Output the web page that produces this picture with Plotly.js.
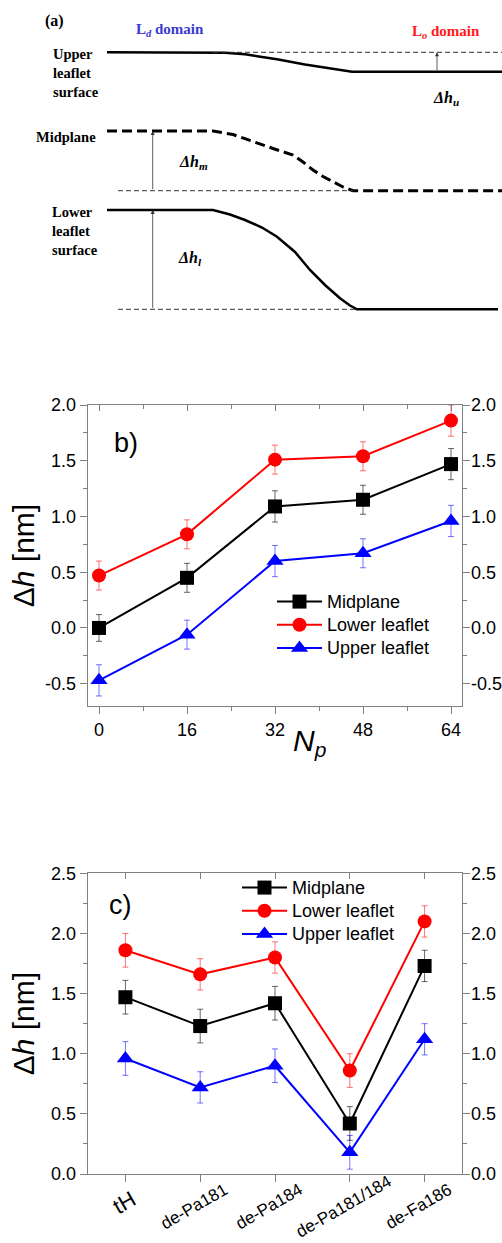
<!DOCTYPE html>
<html><head><meta charset="utf-8">
<script src="https://cdn.plot.ly/plotly-3.0.1.min.js"></script>
<style>html,body{margin:0;padding:0;background:#fff}</style>
</head><body><div id="chart" style="width:502px;height:1243px"></div>
<script>
// ---------- panel (a) schematic profiles (schematic units) ----------
const upperX = [107, 213, 225, 245, 277, 305, 333, 345, 352, 502];
const upperY = [52.3, 52.3, 52.8, 54.3, 59.3, 64.5, 69.0, 70.9, 71.7, 71.7];
const midX = [107, 213, 233, 253, 273, 293, 303, 313, 323, 333, 343, 353, 502];
const midY = [131, 131, 134.5, 141.7, 148.5, 155, 162, 170, 176.5, 181.7, 187, 190.7, 190.7];
const lowX = [107, 213, 230, 245, 262, 277, 295, 310, 325, 340, 350, 357, 498];
const lowY = [210, 210, 214.5, 220, 227.5, 236.7, 252, 270, 285, 298.3, 305.5, 309.3, 309.3];
const refUpX = [213, 502], refUpY = [52.3, 52.3];
const refMidX = [118, 353], refMidY = [190.7, 190.7];
const refLowX = [118, 357], refLowY = [309.3, 309.3];

// ---------- panel (b) ----------
const np = [0, 16, 32, 48, 64];
const bMid = [0.00, 0.45, 1.09, 1.15, 1.47];
const bMidErr = [0.12, 0.13, 0.14, 0.13, 0.14];
const bLow = [0.47, 0.84, 1.51, 1.54, 1.86];
const bLowErr = [0.13, 0.13, 0.13, 0.13, 0.14];
const bUp = [-0.47, -0.06, 0.60, 0.67, 0.96];
const bUpErr = [0.14, 0.13, 0.14, 0.13, 0.14];
const bYTicks = [-0.5, 0, 0.5, 1, 1.5, 2];
const bYLabels = ['-0.5', '0.0', '0.5', '1.0', '1.5', '2.0'];

// ---------- panel (c) ----------
const variants = ['tH', 'de-Pa181', 'de-Pa184', 'de-Pa181/184', 'de-Fa186'];
const cMid = [1.47, 1.23, 1.42, 0.42, 1.73];
const cMidErr = [0.14, 0.14, 0.14, 0.14, 0.13];
const cLow = [1.86, 1.66, 1.80, 0.86, 2.10];
const cLowErr = [0.14, 0.13, 0.13, 0.14, 0.13];
const cUp = [0.96, 0.72, 0.90, 0.18, 1.12];
const cUpErr = [0.14, 0.13, 0.14, 0.14, 0.13];
const cYTicks = [0, 0.5, 1, 1.5, 2, 2.5];
const cYLabels = ['0.0', '0.5', '1.0', '1.5', '2.0', '2.5'];

const seriesNames = ['Midplane', 'Lower leaflet', 'Upper leaflet'];

const SANS = 'Arial, "Liberation Sans", sans-serif';
const SERIF = '"Times New Roman", "Liberation Serif", serif';
const W = 502, H = 1243;
const py = p => 1 - p / H;
const px = p => p / W;

function series(x, y, err, color, errColor, symbol, size, name, xa, ya, legend) {
  return {
    type: 'scatter', mode: 'lines+markers', x: x, y: y,
    name: '<span style="font-size:18px">' + name + '</span>',
    xaxis: xa, yaxis: ya, legend: legend,
    line: {color: color, width: 2},
    marker: {symbol: symbol, size: size, color: color},
    error_y: {type: 'data', array: err, visible: true, color: errColor, thickness: 1, width: 3}
  };
}
function schem(x, y, width, dash, color) {
  return {type: 'scatter', mode: 'lines', x: x, y: y, xaxis: 'x5', yaxis: 'y5',
    showlegend: false, hoverinfo: 'skip',
    line: {color: color, width: width, dash: dash}};
}
function holder(xa, ya) {   // empty trace that makes the mirrored axes appear
  return {type: 'scatter', mode: 'markers', x: [null], y: [null], xaxis: xa, yaxis: ya,
    showlegend: false, hoverinfo: 'skip'};
}

const traces = [
  schem(upperX, upperY, 2.5, 'solid', '#000'),
  schem(midX, midY, 3, '10px,5px', '#000'),
  schem(lowX, lowY, 2.5, 'solid', '#000'),
  schem(refUpX, refUpY, 1, '5px,3px', '#333'),
  schem(refMidX, refMidY, 1, '5px,3px', '#333'),
  schem(refLowX, refLowY, 1, '5px,3px', '#333'),

  holder('x2', 'y2'),
  holder('x4', 'y4'),

  series(np, bMid, bMidErr, '#000000', 'rgba(0,0,0,0.6)', 'square', 14, seriesNames[0], 'x', 'y', 'legend'),
  series(np, bLow, bLowErr, '#ff0000', 'rgba(255,0,0,0.55)', 'circle', 14, seriesNames[1], 'x', 'y', 'legend'),
  series(np, bUp, bUpErr, '#0000ff', 'rgba(0,0,255,0.55)', 'triangle-up', 15, seriesNames[2], 'x', 'y', 'legend'),

  series(variants, cMid, cMidErr, '#000000', 'rgba(0,0,0,0.6)', 'square', 14, seriesNames[0], 'x3', 'y3', 'legend2'),
  series(variants, cLow, cLowErr, '#ff0000', 'rgba(255,0,0,0.55)', 'circle', 14, seriesNames[1], 'x3', 'y3', 'legend2'),
  series(variants, cUp, cUpErr, '#0000ff', 'rgba(0,0,255,0.55)', 'triangle-up', 15, seriesNames[2], 'x3', 'y3', 'legend2')
];

const AX = '#808080';
const base = {showline: true, linecolor: AX, linewidth: 1.3, zeroline: false, showgrid: false,
  ticks: 'outside', ticklen: 7, tickwidth: 1, tickcolor: AX,
  tickfont: {family: SANS, size: 18, color: '#000'}};
const xDom = [px(88), px(462)];
const bDom = [py(706), py(405)];
const cDom = [py(1174), py(873.3)];

const layout = {
  width: W, height: H, margin: {l: 0, r: 0, t: 0, b: 0},
  paper_bgcolor: '#fff', plot_bgcolor: 'rgba(0,0,0,0)',
  font: {family: SANS, color: '#000'},
  showlegend: true,
  // panel b
  xaxis: Object.assign({}, base, {domain: xDom, anchor: 'y', range: [-2, 66],
    tickmode: 'array', tickvals: np, ticktext: np.map(String),
    minor: {dtick: 8, tick0: 0, ticks: 'outside', ticklen: 4, tickcolor: AX}}),
  xaxis2: Object.assign({}, base, {overlaying: 'x', side: 'top', anchor: 'y', range: [-2, 66],
    ticks: 'inside', ticklen: 6, showticklabels: false, tickmode: 'array', tickvals: np,
    minor: {dtick: 8, tick0: 0, ticks: 'inside', ticklen: 4, tickcolor: AX}}),
  yaxis: Object.assign({}, base, {domain: bDom, anchor: 'x', range: [-0.7, 2.0],
    tickmode: 'array', tickvals: bYTicks, ticktext: bYLabels,
    minor: {dtick: 0.25, tick0: 0, ticks: 'outside', ticklen: 4, tickcolor: AX},
    title: {text: 'Δ<i>h</i> [nm]', font: {family: SANS, size: 30}, standoff: 1}}),
  yaxis2: Object.assign({}, base, {overlaying: 'y', side: 'right', anchor: 'x', range: [-0.7, 2.0],
    tickmode: 'array', tickvals: bYTicks, ticktext: bYLabels, ticklabelstandoff: -3,
    minor: {dtick: 0.25, tick0: 0, ticks: 'outside', ticklen: 4, tickcolor: AX}}),
  // panel c
  xaxis3: Object.assign({}, base, {domain: xDom, anchor: 'y3', type: 'category',
    range: [-0.5, 4.5], showticklabels: false}),
  xaxis4: Object.assign({}, base, {overlaying: 'x3', side: 'top', anchor: 'y3', type: 'linear',
    range: [-0.5, 4.5], ticks: 'inside', ticklen: 6, showticklabels: false,
    tickmode: 'array', tickvals: variants.map((v, i) => i)}),
  yaxis3: Object.assign({}, base, {domain: cDom, anchor: 'x3', range: [0, 2.5],
    tickmode: 'array', tickvals: cYTicks, ticktext: cYLabels,
    minor: {dtick: 0.25, tick0: 0, ticks: 'outside', ticklen: 4, tickcolor: AX},
    title: {text: 'Δ<i>h</i> [nm]', font: {family: SANS, size: 30}, standoff: 7}}),
  yaxis4: Object.assign({}, base, {overlaying: 'y3', side: 'right', anchor: 'x3', range: [0, 2.5],
    tickmode: 'array', tickvals: cYTicks, ticktext: cYLabels, ticklabelstandoff: -3,
    minor: {dtick: 0.25, tick0: 0, ticks: 'outside', ticklen: 4, tickcolor: AX}}),
  // schematic
  xaxis5: {domain: [0, 1], anchor: 'y5', range: [0, 502], visible: false, fixedrange: true},
  yaxis5: {domain: [py(330), 1], anchor: 'x5', range: [330, 0], visible: false, fixedrange: true},

  legend: {x: px(272), xanchor: 'left', y: py(585), yanchor: 'top', bgcolor: 'rgba(0,0,0,0)',
    font: {family: SANS, size: 15.5, color: '#000'}, itemwidth: 45, tracegroupgap: 0},
  legend2: {x: px(237), xanchor: 'left', y: py(871), yanchor: 'top', bgcolor: 'rgba(0,0,0,0)',
    font: {family: SANS, size: 15.5, color: '#000'}, itemwidth: 45, tracegroupgap: 0},
  annotations: []
};

const ann = layout.annotations;
function pap(text, x, y, size, extra) {
  ann.push(Object.assign({text: text, x: px(x), y: py(y), xref: 'paper', yref: 'paper',
    xanchor: 'center', yanchor: 'middle',
    showarrow: false, font: {family: SANS, size: size, color: '#000'}}, extra || {}));
}
function sch(text, x, y, size, extra) {
  ann.push(Object.assign({text: text, x: x, y: y, xref: 'x5', yref: 'y5',
    xanchor: 'center', yanchor: 'middle',
    showarrow: false, font: {family: SERIF, size: size, color: '#000'}}, extra || {}));
}
function arrow(x, yHead, yTail) {
  ann.push({x: x, y: yHead, ax: x, ay: yTail, xref: 'x5', yref: 'y5', axref: 'x5', ayref: 'y5',
    text: '', showarrow: true, arrowhead: 2, arrowsize: 1, arrowwidth: 0.8, arrowcolor: '#333'});
}
// panel a texts
sch('<b>(a)</b>', 54, 21, 16);
sch('<b>L<sub><i>d</i></sub> domain</b>', 170, 30, 15, {font: {family: SERIF, size: 15, color: '#3a3ad0'}});
sch('<b>L<sub><i>o</i></sub> domain</b>', 446, 32, 15, {font: {family: SERIF, size: 15, color: '#ff1a1a'}});
sch('<b>Upper<br>leaflet<br>surface</b>', 51, 73, 14.5, {xanchor: 'left', align: 'left'});
sch('<b>Midplane</b>', 98, 137, 14.5, {xanchor: 'right'});
sch('<b>Lower<br>leaflet<br>surface</b>', 50, 231, 14.5, {xanchor: 'left', align: 'left'});
sch('<b><i>Δh<sub>u</sub></i></b>', 446, 98, 16);
sch('<b><i>Δh<sub>m</sub></i></b>', 193, 162, 16);
sch('<b><i>Δh<sub>l</sub></i></b>', 190, 258, 16);
arrow(437, refUpY[0], upperY[upperY.length - 1]);
arrow(152.7, midY[0], refMidY[0]);
arrow(152.7, lowY[0], refLowY[0]);

// panel labels and x title
pap('b)', 126, 443, 27);
pap('c)', 120, 905, 27);
pap('<i>N</i><sub><i>p</i></sub>', 309, 742, 30);

// panel c category labels (rotated, centred under ticks)
variants.forEach((v, i) => {
  ann.push({text: v, x: v, xref: 'x3', y: py(i === 0 ? 1202 : 1206), yref: 'paper',
    xanchor: 'center', yanchor: 'middle',
    textangle: -30, showarrow: false, xshift: i === 0 ? -1 : -6,
    font: {family: SANS, size: i === 0 ? 22 : 17, color: '#000'}});
});

Plotly.newPlot('chart', traces, layout, {staticPlot: true, displayModeBar: false});
</script>
</body></html>
